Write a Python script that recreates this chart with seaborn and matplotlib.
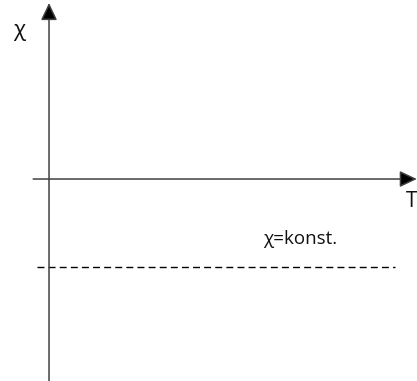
import matplotlib
matplotlib.use("Agg")
import matplotlib.pyplot as plt
import seaborn as sns
import pandas as pd

# ----------------------------------------------------------
# data (schematic: chi constant in T)
chi_const = -1.0
T_line = [-0.14, 3.93]
chi_line = [chi_const, chi_const]

T_axis = [-0.18, 4.18]
chi_axis = [-2.30, 2.00]
label_const = "χ=konst."
label_x = "T"
label_y = "χ"

sns.set_theme(style="white")
plt.rcParams["font.family"] = ["Open Sans", "DejaVu Sans"]

fig = plt.figure(figsize=(4.17, 3.81), dpi=100)
ax = fig.add_axes([0, 0, 1, 1])
ax.set_xlim(-0.557, 4.182)
ax.set_ylim(-2.295, 2.034)
ax.axis("off")

# axes with arrows
axcol = "#404040"
arr = dict(arrowstyle="-|>,head_length=1.05,head_width=0.5", lw=1.1,
           color=axcol, fc="black", mutation_scale=10, shrinkA=0, shrinkB=0)
ax.annotate("", xy=(T_axis[1], 0), xytext=(T_axis[0], 0), arrowprops=arr)
ax.annotate("", xy=(0, chi_axis[1]), xytext=(0, chi_axis[0]), arrowprops=arr)

# constant chi line
df = pd.DataFrame({"T": T_line, "chi": chi_line})
sns.lineplot(data=df, x="T", y="chi", ax=ax, color="black", lw=1.0,
             dashes=False, linestyle=(0, (5, 3)))

txtcol = "#111111"
ax.text(2.43, -0.74, label_const, fontsize=13.5, color=txtcol,
        ha="left", va="baseline")
ax.text(-0.34, 1.69, label_y, fontsize=16, color=txtcol,
        ha="center", va="center")
ax.text(4.05, -0.14, label_x, fontsize=15, color=txtcol,
        ha="left", va="top")

fig.savefig("out.png", dpi=100)
